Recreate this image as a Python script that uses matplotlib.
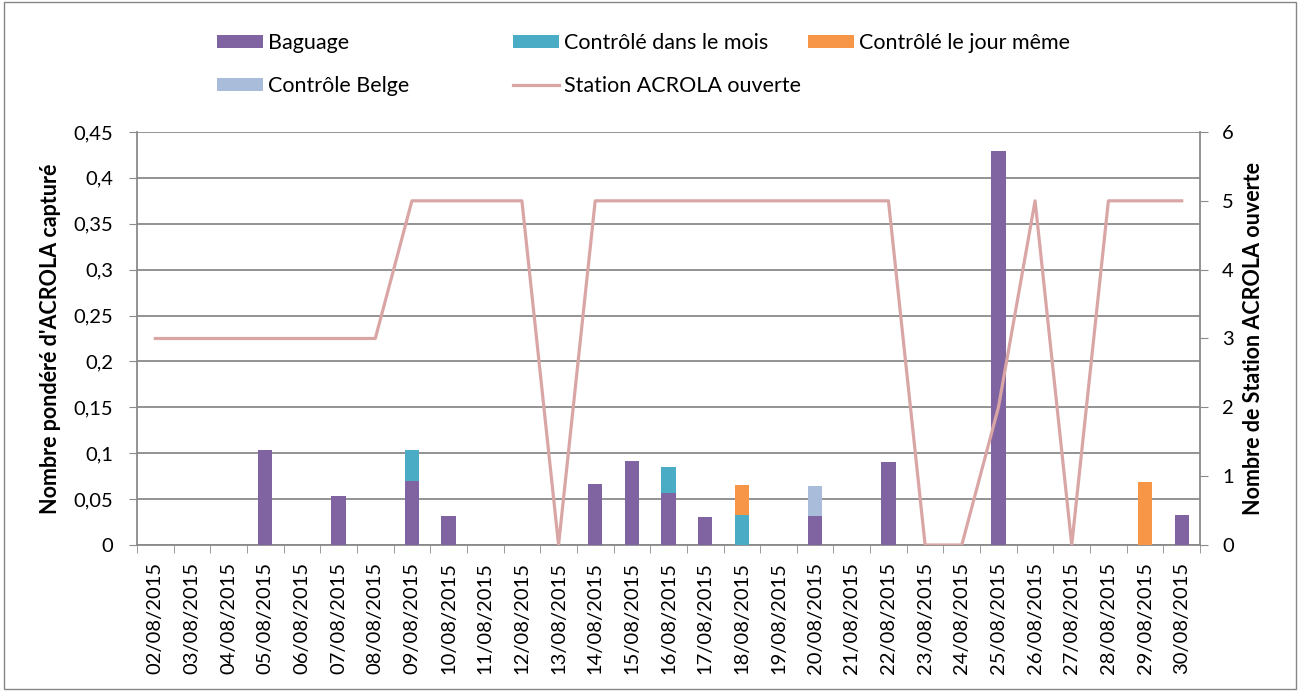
import matplotlib.pyplot as plt
import numpy as np
from matplotlib.ticker import FuncFormatter

plt.rcParams['font.family'] = ['Lato', 'DejaVu Sans']

#################################
#####        DATA           #####
#################################

dates = ["%02d/08/2015" % d for d in range(2, 31)]

baguage = [0, 0, 0, 0.104, 0, 0.053, 0, 0.070, 0.032, 0, 0, 0, 0.066, 0.092,
           0.057, 0.030, 0, 0, 0.032, 0, 0.090, 0, 0, 0.429, 0, 0, 0, 0, 0.033]
controle_mois = [0, 0, 0, 0, 0, 0, 0, 0.034, 0, 0, 0, 0, 0, 0,
                 0.028, 0, 0.033, 0, 0, 0, 0, 0, 0, 0, 0, 0, 0, 0, 0]
controle_jour = [0, 0, 0, 0, 0, 0, 0, 0, 0, 0, 0, 0, 0, 0,
                 0, 0, 0.032, 0, 0, 0, 0, 0, 0, 0, 0, 0, 0, 0.069, 0]
controle_belge = [0, 0, 0, 0, 0, 0, 0, 0, 0, 0, 0, 0, 0, 0,
                  0, 0, 0, 0, 0.032, 0, 0, 0, 0, 0, 0, 0, 0, 0, 0]
stations = [3, 3, 3, 3, 3, 3, 3, 5, 5, 5, 5, 0, 5, 5,
            5, 5, 5, 5, 5, 5, 5, 0, 0, 2, 5, 0, 5, 5, 5]

##################################
#####     VISUALIZATION      #####
##################################

fig = plt.figure(figsize=(13, 6.91), dpi=100)
ax = fig.add_axes([0.1054, 0.2113, 0.8177, 0.5977])

x = np.arange(len(dates))
w = 0.39
grid_col = "#8A8A8A"
tick_fs = 14.5

# Stacked bars
bottom = np.zeros(len(dates))
series = [(baguage, "#8064A2", "Baguage"),
          (controle_mois, "#4BACC6", "Contrôlé dans le mois"),
          (controle_jour, "#F79646", "Contrôlé le jour même"),
          (controle_belge, "#A9BCDA", "Contrôle Belge")]
handles = {}
for vals, col, lab in series:
    vals = np.array(vals)
    h = ax.bar(x, vals, w, bottom=bottom, color=col, label=lab, zorder=3)
    handles[lab] = h
    bottom = bottom + vals

ax.set_ylim(0, 0.45)
ax.set_xlim(-0.5, len(dates) - 0.5)
ax.set_yticks(np.arange(0, 0.451, 0.05))
ax.yaxis.set_major_formatter(FuncFormatter(
    lambda v, p: ("%g" % round(v, 2)).replace(".", ",")))
ax.grid(True, axis="y", color=grid_col, linewidth=1.3, zorder=0)
ax.set_xticks(x)
ax.set_xticklabels(dates, rotation=90, fontsize=tick_fs)
ax.set_xticks(np.arange(-0.5, len(dates), 1), minor=True)
ax.tick_params(axis="x", which="major", length=0, pad=12)
ax.tick_params(axis="x", which="minor", length=6, color=grid_col)
ax.tick_params(axis="y", length=6, color=grid_col, labelsize=tick_fs, pad=11)
for s in ["top", "right"]:
    ax.spines[s].set_visible(False)
for s in ["left", "bottom"]:
    ax.spines[s].set_color(grid_col)
    ax.spines[s].set_linewidth(1.3)
ax.set_ylabel("Nombre pondéré d'ACROLA capturé", fontsize=15.5, fontweight="bold")
ax.yaxis.set_label_coords(-0.0715, 0.5)

# Secondary axis for the line
ax2 = ax.twinx()
line, = ax2.plot(x, stations, color="#D9A6A5", linewidth=2.3,
                 label="Station ACROLA ouverte", zorder=4)
ax2.set_ylim(0, 6)
ax2.set_yticks(range(0, 7))
ax2.tick_params(axis="y", length=6, color=grid_col, labelsize=tick_fs, pad=10)
for s in ["top", "left", "bottom"]:
    ax2.spines[s].set_visible(False)
ax2.spines["right"].set_color(grid_col)
ax2.spines["right"].set_linewidth(1.3)
ax2.set_ylabel("Nombre de Station ACROLA ouverte", fontsize=15.5, fontweight="bold")
ax2.yaxis.set_label_coords(1.0405, 0.5)

# Legend: Excel-like grid, one entry per slot
slots = [(handles["Baguage"], 217, 43),
         (handles["Contrôlé dans le mois"], 513, 43),
         (handles["Contrôlé le jour même"], 808, 43),
         (handles["Contrôle Belge"], 217, 86),
         (line, 513, 86)]
for h, px, py in slots:
    fig.legend([h], [h.get_label()], loc="center left",
               bbox_to_anchor=(px / 1300, 1 - py / 691), frameon=False,
               fontsize=15.5, handlelength=2.14, handleheight=0.56,
               handletextpad=0.23, borderpad=0, borderaxespad=0)

# Chart border
fig.patches.append(plt.Rectangle((0.003, 0.003), 0.994, 0.994, transform=fig.transFigure,
                                 fill=False, edgecolor="#868686", linewidth=1))

plt.savefig("out.png", dpi=100)
